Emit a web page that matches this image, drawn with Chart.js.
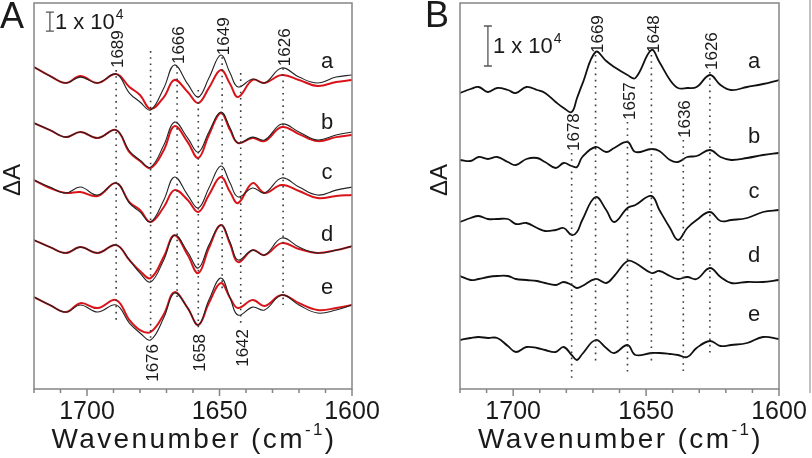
<!DOCTYPE html>
<html>
<head>
<meta charset="utf-8">
<script src="https://cdn.jsdelivr.net/npm/chart.js@4.4.0/dist/chart.umd.min.js"></script>
<style>
html, body { margin: 0; padding: 0; background: #fff; }
#wrap { position: relative; width: 812px; height: 458px; overflow: hidden; }
canvas { position: absolute; top: 0; }
#panelA { left: 0; }
#panelB { left: 406px; }
</style>
</head>
<body>
<div id="wrap">
  <canvas id="panelA" width="406" height="458"></canvas>
  <canvas id="panelB" width="406" height="458"></canvas>
</div>
<script>
// x tick labels shared by both panels
const tickLabels = [1700, 1650, 1600];
const traceNames = ['a', 'b', 'c', 'd', 'e'];

// ---- panel A: wavenumbers and spectra (x10^3, relative to each trace's start) ----
const wnA = [1720, 1714, 1708, 1702.5, 1696, 1689, 1684, 1680, 1676, 1671, 1667, 1662,
             1658, 1654, 1649.5, 1646, 1643, 1637.5, 1633, 1626.5, 1620, 1613, 1606, 1600];
const aBlackA = [0, -4.7, -8.4, -5.3, -8.4, -3.7, -13.7, -18.4, -22.6, -11, 1.1, -8.9, -15.8, -5.8, 6.3, -3.2, -10.5, -6.3, -8.4, -0.5, -5.3, -8.4, -5.3, -4.2];
const aRedA   = [0, -4.7, -8.4, -4.7, -8.4, -3.7, -10.5, -14.7, -22.1, -15.8, -6.8, -13.2, -18.9, -11, -1.6, -8.9, -15.8, -6.8, -8.4, -4.2, -6.8, -10, -7.9, -6.8];
const bBlackA = [0, -3.7, -7.4, -4.7, -7.9, -3.7, -14.7, -19.5, -23.2, -11.6, 0.5, -7.9, -15.3, -4.7, 5.8, -2.6, -10.5, -7.4, -8.9, -0.5, -4.7, -8.9, -6.3, -4.7];
const bRedA   = [0, -3.7, -7.4, -4.7, -7.9, -3.7, -15.3, -20, -23.7, -14.2, -1.6, -10, -18.4, -6.3, 5.3, -3.7, -10.5, -7.9, -9.5, -2.1, -5.8, -9.5, -7.4, -6.3];
const cBlackA = [0, -3.7, -6.8, -3.7, -7.9, -1.6, -12.1, -16.8, -22.1, -10.5, 1.6, -7.9, -14.7, -4.2, 7.4, -1.6, -8.9, -4.2, -6.8, 1.1, -3.7, -7.9, -5.3, -3.7];
const cRedA   = [0, -4.2, -6.8, -6.3, -8.4, -1.6, -11.6, -15.8, -22.1, -14.2, -5.3, -10.5, -16.8, -7.9, 1.6, -6.3, -12.1, -1.6, -6.8, -2.6, -5.8, -9.5, -8.4, -7.9];
const dBlackA = [0, -3.7, -6.8, -3.7, -6.8, -2.6, -10.5, -17.4, -22.1, -10.3, 2.6, -6.3, -14.7, -2.6, 7.9, -1.1, -10.5, -5.3, -7.9, 1.1, -3.7, -6.8, -5.3, -3.2];
const dRedA   = [0, -3.7, -6.8, -3.7, -6.8, -2.6, -10.5, -16.3, -20, -8.7, 2.6, -7.9, -17.4, -4.2, 7.9, -2.1, -11.6, -5.3, -7.9, -1.6, -4.7, -6.8, -5.3, -3.2];
const eBlackA = [0, -4.2, -7.9, -4.2, -7.9, -4.2, -13.7, -18.9, -22.6, -10.8, 2.1, -5.8, -14.7, -1.6, 10, -0.5, -9.5, -5.3, -6.8, 1.1, -4.2, -8.4, -6.8, -4.2];
const eRedA   = [0, -4.2, -7.9, -3.2, -5.8, -1.6, -12.1, -17.4, -18.4, -9, 2.6, -5.8, -14.7, -3.2, 7.4, -0.5, -5.8, -1.6, -4.7, 1.1, -3.2, -6.8, -5.8, -4.2];
const offsetsA = [169.5, 140, 110, 78.4, 48.4];
const letterYA = [172.1, 140, 113.7, 81.1, 53.2];
const peaksA = [1689, 1676, 1666, 1658, 1649, 1642, 1626];
const guideTopA = [167.9, 177.9, 170, 157.4, 174.7, 166.3, 168.9];
const guideBottomA = [35.3, 25.8, 46.8, 31.1, 52.1, 33.7, 44.2];
const labelSideA = ['top', 'bottom', 'top', 'bottom', 'top', 'bottom', 'top'];

// ---- panel B ----
const wnB = [1720, 1716, 1713, 1709.5, 1706, 1702, 1699, 1695, 1691, 1688, 1684, 1681, 1678, 1676, 1674, 1669,
             1665, 1662, 1657, 1654, 1648, 1645, 1641, 1638, 1634.5, 1631, 1626, 1622, 1618, 1612, 1606, 1600];
const aB = [0, 1, 1.5, 0.25, 1.25, 0.75, 0, 1.5, 0.75, 0, -2.25, -3.75, -4.75, -1.3, 2.2, 10.25, 8, 6.5, 4.5, 3.75, 10.75, 7.75, 3.25, 1.25, 1.25, 1.5, 4.5, 2, 0.75, 1.5, 2.25, 3.25];
const bB = [0, -0.25, 0.75, 0.25, 0.75, -0.5, -1.25, 0.25, 0.5, -0.5, -2, -0.75, -1.5, -1.75, 0.75, 3.25, 2, 3, 4.5, 2, 2.75, 2.25, 0, -0.5, 0.75, 1, 2.5, 0.75, 0, 0.5, 1.25, 1.75];
const cB = [0, 1, 1.5, 0.75, 0.75, 0.75, -0.5, -0.25, -1.5, -2.25, -2, -1.5, -3.25, -2.5, 0.5, 6.25, 3, 0, 3.5, 4.25, 6.5, 3, -1.5, -4.5, -1.5, 0.5, 2.5, 0.25, 0.5, 1, 2.5, 3];
const dB = [0, -1, -0.75, -0.25, 0, 0, -0.75, -1, -1.25, -1.75, -2.25, -1.5, -2.25, -3, -2.5, -0.75, -1.75, 0, 3.75, 3.25, 0.75, 1.25, 0, -0.75, -0.25, -0.75, 2, -0.25, -1.75, -1.5, -1.5, -1];
const eB = [0, 0.5, 0.75, 0.5, 0.5, -1.5, -3, -1.75, -2, -2.5, -3, -1.75, -3.75, -5, -3.5, 0, -2, -3.25, -1.25, -3.75, -3.25, -3.25, -3.5, -3.75, -4.25, -2, -0.25, -1.5, -1.25, -0.75, 0.75, 0.25];
const offsetsB = [74, 57.25, 41.75, 28.25, 12.25];
const letterYB = [81.75, 63, 49.25, 33.25, 18.5];
const peaksB = [1678, 1669, 1657, 1648, 1636, 1626];
const guideTopB = [59, 83.5, 66.75, 83.5, 62.25, 79.25];
const guideBottomB = [2.75, 6.75, 4.25, 6.75, 4, 8.5];
const labelSideB = ['top', 'top', 'top', 'top', 'top', 'top'];

const FONT = '"Liberation Sans", Arial, sans-serif';
const INK = '#1a1a1a';

function series(wn, vals, offset) {
    return wn.map(function (w, i) { return { x: w, y: offset + vals[i] }; });
}

function makeDecor(cfg) {
    return {
        id: 'decor' + cfg.name,
        afterDatasetsDraw: function (chart) {
            var ctx = chart.ctx, xs = chart.scales.x, ys = chart.scales.y, area = chart.chartArea;
            ctx.save();

            // frame and ticks
            ctx.strokeStyle = '#858585';
            ctx.lineWidth = 1.5;
            ctx.strokeRect(area.left, area.top, area.right - area.left, area.bottom - area.top);
            ctx.beginPath();
            for (var v = 1600; v <= 1720; v += 10) {
                var tx = xs.getPixelForValue(v);
                ctx.moveTo(tx, area.bottom);
                ctx.lineTo(tx, area.bottom + (v % 50 === 0 ? 7 : 4));
            }
            ctx.stroke();

            // dotted guides at band positions
            ctx.strokeStyle = '#3a3a3a';
            ctx.lineWidth = 1.6;
            ctx.setLineDash([1.6, 4.6]);
            cfg.peaks.forEach(function (wn, i) {
                var x = xs.getPixelForValue(wn);
                ctx.beginPath();
                ctx.moveTo(x, ys.getPixelForValue(cfg.guideTop[i]));
                ctx.lineTo(x, ys.getPixelForValue(cfg.guideBottom[i]));
                ctx.stroke();
            });
            ctx.setLineDash([]);

            // band labels, rotated
            ctx.fillStyle = INK;
            ctx.font = '17px ' + FONT;
            ctx.textBaseline = 'middle';
            cfg.peaks.forEach(function (wn, i) {
                var x = xs.getPixelForValue(wn);
                var up = cfg.labelSide[i] === 'top';
                var y = up ? ys.getPixelForValue(cfg.guideTop[i]) - 2 : ys.getPixelForValue(cfg.guideBottom[i]) + 4;
                ctx.save();
                ctx.translate(x + 2.5, y);
                ctx.rotate(-Math.PI / 2);
                ctx.textAlign = up ? 'left' : 'right';
                ctx.fillText(String(wn), 0, 0);
                ctx.restore();
            });

            // trace letters
            ctx.font = '22px ' + FONT;
            ctx.textAlign = 'center';
            traceNames.forEach(function (n, i) {
                ctx.fillText(n, xs.getPixelForValue(1609.4), ys.getPixelForValue(cfg.letterY[i]));
            });

            // scale bar
            var bx = xs.getPixelForValue(cfg.barX);
            var b0 = ys.getPixelForValue(cfg.barY), b1 = ys.getPixelForValue(cfg.barY + 10);
            ctx.strokeStyle = '#555';
            ctx.lineWidth = 1.3;
            ctx.beginPath();
            ctx.moveTo(bx, b0); ctx.lineTo(bx, b1);
            ctx.moveTo(bx - 4, b0); ctx.lineTo(bx + 4, b0);
            ctx.moveTo(bx - 4, b1); ctx.lineTo(bx + 4, b1);
            ctx.stroke();
            var mid = (b0 + b1) / 2 + 1;
            ctx.textAlign = 'left';
            ctx.font = cfg.barFont + 'px ' + FONT;
            ctx.fillText('1 x 10', bx + 5, mid);
            var w = ctx.measureText('1 x 10').width;
            ctx.font = Math.round(cfg.barFont * 0.62) + 'px ' + FONT;
            ctx.fillText('4', bx + 6 + w, mid - cfg.barFont * 0.36);

            // x axis title with superscript
            var cx = (area.left + area.right) / 2 + 1, ty = 448;
            ctx.textBaseline = 'alphabetic';
            ctx.letterSpacing = '2.4px';
            ctx.font = '28px ' + FONT;
            var w1 = ctx.measureText('Wavenumber (cm').width;
            var w3 = ctx.measureText(')').width;
            ctx.font = '17px ' + FONT;
            var w2 = ctx.measureText('-1').width;
            var sx = cx - (w1 + w2 + w3) / 2;
            ctx.font = '28px ' + FONT;
            ctx.fillText('Wavenumber (cm', sx, ty);
            ctx.fillText(')', sx + w1 + w2, ty);
            ctx.font = '17px ' + FONT;
            ctx.fillText('-1', sx + w1, ty - 13);
            ctx.letterSpacing = '0px';

            // panel letter and y title
            ctx.font = '36px ' + FONT;
            ctx.fillText(cfg.name, cfg.letterPos[0], cfg.letterPos[1]);
            ctx.save();
            ctx.translate(cfg.yTitlePos[0], cfg.yTitlePos[1]);
            ctx.rotate(-Math.PI / 2);
            ctx.textAlign = 'center';
            ctx.textBaseline = 'middle';
            ctx.font = '24px ' + FONT;
            ctx.fillText('\u0394A', 0, 0);
            ctx.restore();

            if (cfg.edgeLine) {
                ctx.strokeStyle = '#999';
                ctx.lineWidth = 1.2;
                ctx.beginPath();
                ctx.moveTo(cfg.edgeLine, 0);
                ctx.lineTo(cfg.edgeLine, 393);
                ctx.stroke();
            }
            ctx.restore();
        }
    };
}

function buildChart(id, cfg) {
    return new Chart(document.getElementById(id), {
        type: 'line',
        data: { datasets: cfg.datasets },
        options: {
            responsive: false,
            animation: false,
            devicePixelRatio: 1,
            layout: { padding: cfg.padding },
            plugins: { legend: { display: false }, tooltip: { enabled: false } },
            elements: {
                point: { radius: 0 },
                line: { tension: 0.4, borderJoinStyle: 'round', borderCapStyle: 'round' }
            },
            scales: {
                x: {
                    type: 'linear',
                    reverse: true,
                    min: 1600,
                    max: 1720,
                    afterFit: function (scale) { scale.height = 69; },
                    grid: { display: true, drawOnChartArea: false, color: 'rgba(0,0,0,0)', tickLength: 7 },
                    border: { display: false },
                    ticks: {
                        stepSize: 10,
                        autoSkip: false,
                        maxRotation: 0,
                        padding: 1,
                        color: INK,
                        font: { family: FONT, size: 25 },
                        callback: function (v) { return tickLabels.indexOf(v) >= 0 ? String(v) : ''; }
                    },
                    title: { display: false }
                },
                y: { display: false, min: 0, max: cfg.yMax }
            }
        },
        plugins: [makeDecor(cfg)]
    });
}

var blacksA = [aBlackA, bBlackA, cBlackA, dBlackA, eBlackA];
var redsA = [aRedA, bRedA, cRedA, dRedA, eRedA];
var dsA = [];
blacksA.forEach(function (vals, k) {
    dsA.push({ data: series(wnA, vals, offsetsA[k]), borderColor: '#222', borderWidth: 1.1 });
});
redsA.forEach(function (vals, k) {
    dsA.push({ data: series(wnA, vals, offsetsA[k]), borderColor: '#d8141a', borderWidth: 2 });
});

var dsB = [aB, bB, cB, dB, eB].map(function (vals, k) {
    return { data: series(wnB, vals, offsetsB[k]), borderColor: '#111', borderWidth: 1.8 };
});

buildChart('panelA', {
    name: 'A', datasets: dsA, yMax: 203.2,
    padding: { left: 34, right: 54, top: 3, bottom: 0 },
    peaks: peaksA, guideTop: guideTopA, guideBottom: guideBottomA, labelSide: labelSideA,
    letterY: letterYA, barX: 1714, barY: 188.4, barFont: 22,
    letterPos: [0, 28], yTitlePos: [13, 180]
});

buildChart('panelB', {
    name: 'B', datasets: dsB, yMax: 96.5,
    padding: { left: 54, right: 33, top: 3, bottom: 0 },
    peaks: peaksB, guideTop: guideTopB, guideBottom: guideBottomB, labelSide: labelSideB,
    letterY: letterYB, barX: 1709.5, barY: 80.75, barFont: 22,
    letterPos: [19, 27], yTitlePos: [34, 180], edgeLine: 404
});
</script>
</body>
</html>
